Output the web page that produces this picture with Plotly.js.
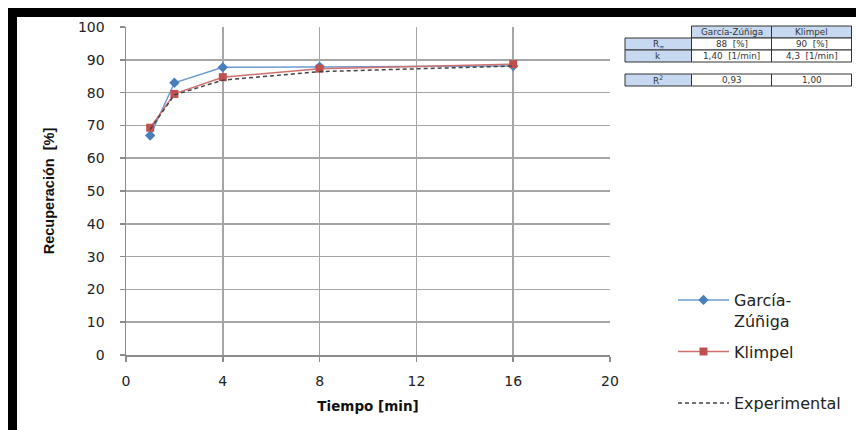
<!DOCTYPE html>
<html>
<head>
<meta charset="utf-8">
<script src="https://cdn.plot.ly/plotly-3.0.1.min.js"></script>
<style>html,body{margin:0;padding:0;background:#fff;}#chart{width:856px;height:430px;}</style>
</head>
<body>
<div id="chart"></div>
<script>
// ---- data ----
const tiempo = [1, 2, 4, 8, 16];
const garciaZuniga = [66.9, 83.0, 87.7, 87.9, 88.1];
const klimpel = [69.3, 79.6, 84.7, 87.3, 88.7];
const experimental = [68.8, 79.3, 83.8, 86.4, 88.1];
const seriesNames = ['García-<br>Zúñiga', 'Klimpel<br>&nbsp;', 'Experimental'];
const xTicks = [0, 4, 8, 12, 16, 20];
const yTicks = [0, 10, 20, 30, 40, 50, 60, 70, 80, 90, 100];

// table contents
const tableHeader = ['García-Zúñiga', 'Klimpel'];
const tableLabels = ['R<sub>∞</sub>', 'k', 'R<sup>2</sup>'];
const tableGZ = ['88  [%]', '1,40  [1/min]', '0,93'];
const tableKl = ['90  [%]', '4,3  [1/min]', '1,00'];

// ---- geometry helpers (pixel -> paper) ----
const W = 856, H = 430;
const L = 126, R = 610, T = 27, B = 355;
const px = x => (x - L) / (R - L);
const py = y => (B - y) / (B - T);

const traces = [
  {x: tiempo, y: garciaZuniga, name: seriesNames[0], mode: 'lines+markers', legendgroup: 'a',
   line: {color: '#6f9bd4', width: 1.5}, marker: {symbol: 'diamond', size: 8, color: '#4a7ebb'}},
  {x: tiempo, y: klimpel, name: seriesNames[1], mode: 'lines+markers', legendgroup: 'b',
   line: {color: '#d0706d', width: 1.5}, marker: {symbol: 'square', size: 8, color: '#c0504d'}},
  {x: tiempo, y: experimental, name: seriesNames[2], mode: 'lines', legendgroup: 'c',
   line: {color: '#444444', width: 1.5, dash: '4px,3px'}}
];

const shapes = [];
const annotations = [];
// black frame
shapes.push({type: 'rect', xref: 'paper', yref: 'paper', x0: px(8), x1: px(860), y0: py(8), y1: py(17), fillcolor: '#000', line: {width: 0}, layer: 'above'});
shapes.push({type: 'rect', xref: 'paper', yref: 'paper', x0: px(8), x1: px(17), y0: py(8), y1: py(435), fillcolor: '#000', line: {width: 0}, layer: 'above'});

// table
const colX = [625, 691.5, 771.5, 851.5];
const rowY = [[26, 38], [38, 50], [50, 62], [74, 86]];
const blue = '#c6d9f1';
function cell(x0, x1, y0, y1, fill, text) {
  shapes.push({type: 'rect', xref: 'paper', yref: 'paper', x0: px(x0), x1: px(x1), y0: py(y1), y1: py(y0),
    fillcolor: fill, line: {color: '#333', width: 1}});
  annotations.push({xref: 'paper', yref: 'paper', x: px((x0 + x1) / 2), y: py((y0 + y1) / 2),
    text: text, showarrow: false, xanchor: 'center', yanchor: 'middle',
    font: {family: 'DejaVu Sans, Arial, sans-serif', size: 8.8, color: '#333'}});
}
for (let c = 0; c < tableHeader.length; c++) {
  cell(colX[c + 1], colX[c + 2], rowY[0][0], rowY[0][1], blue, tableHeader[c]);
}
for (let r = 0; r < tableLabels.length; r++) {
  const ry = rowY[r + 1];
  cell(colX[0], colX[1], ry[0], ry[1], blue, tableLabels[r]);
  cell(colX[1], colX[2], ry[0], ry[1], '#fff', tableGZ[r]);
  cell(colX[2], colX[3], ry[0], ry[1], '#fff', tableKl[r]);
}

const axisCommon = {
  showgrid: true, gridcolor: '#a6a6a6', gridwidth: 1.5,
  showline: true, linecolor: '#8c8c8c', linewidth: 1.5,
  ticks: 'outside', ticklen: 5, tickcolor: '#8c8c8c', tickwidth: 1.5,
  zeroline: false, automargin: false,
  tickfont: {family: 'DejaVu Sans, Arial, sans-serif', size: 14, color: '#222'}
};

const layout = {
  width: W, height: H,
  margin: {l: L, r: W - R, t: T, b: H - B, autoexpand: false},
  paper_bgcolor: '#fff', plot_bgcolor: '#fff',
  showlegend: true,
  legend: {x: px(673), y: py(283), xanchor: 'left', yanchor: 'top',
    font: {family: 'DejaVu Sans, Arial, sans-serif', size: 16, color: '#222'},
    tracegroupgap: 7, traceorder: 'grouped', valign: 'top', itemwidth: 51, bgcolor: 'rgba(0,0,0,0)'},
  xaxis: Object.assign({}, axisCommon, {
    range: [0, 20], tickvals: xTicks, ticklabelstandoff: 8,
    title: {text: 'Tiempo [min]', standoff: 13,
      font: {family: 'DejaVu Sans, Arial, sans-serif', size: 13.5, color: '#111', weight: 'bold'}}
  }),
  yaxis: Object.assign({}, axisCommon, {
    range: [0, 100], tickvals: yTicks, ticklabelstandoff: 12,
    title: {text: 'Recuperación  [%]', standoff: 20,
      font: {family: 'Liberation Sans, Arial, sans-serif', size: 14.5, color: '#111', weight: 'bold'}}
  }),
  shapes: shapes,
  annotations: annotations
};

Plotly.newPlot('chart', traces, layout, {displayModeBar: false, staticPlot: true});
</script>
</body>
</html>
